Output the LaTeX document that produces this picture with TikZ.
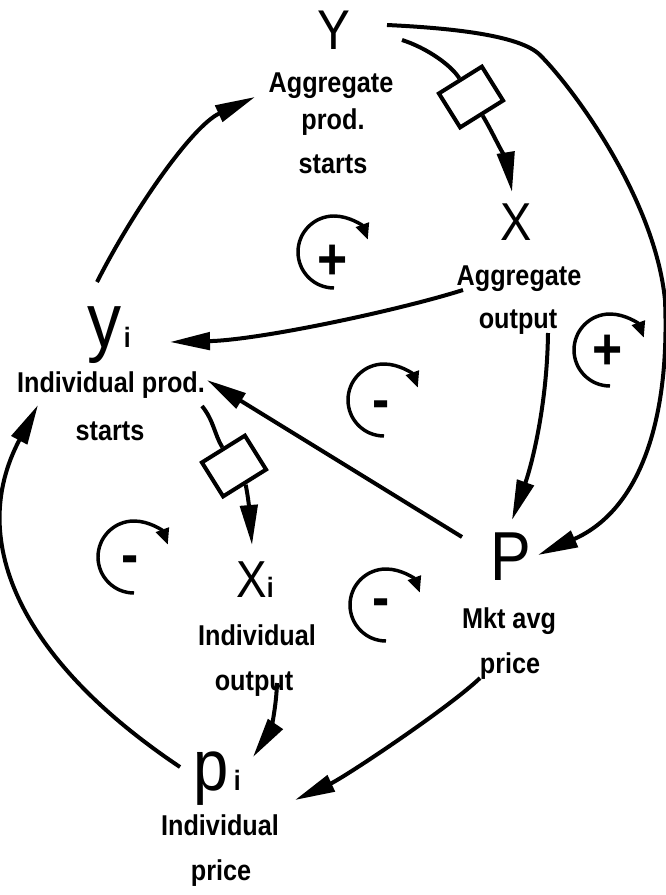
\documentclass[tikz,border=0pt]{standalone}
\usepackage{fontspec}
\setmainfont{Liberation Sans}[FakeStretch=0.88]
\usetikzlibrary{arrows.meta}
\tikzset{
  conn/.style={line width=3pt, -{Triangle[length=30pt,width=13pt]}},
  plainln/.style={line width=3pt},
  boxd/.style={draw, line width=3pt, rotate=32, minimum width=38pt, minimum height=30pt, inner sep=0pt},
  lab/.style={anchor=base, inner sep=0pt, font=\fontsize{21.5}{26}\selectfont\bfseries},
  bigl/.style={anchor=base, inner sep=0pt},
  loopline/.style={line width=2.6pt, -{Triangle[length=12pt,width=10pt]}},
  sign/.style={anchor=base, inner sep=0pt, font=\fontsize{44}{46}\selectfont\bfseries},
  loopsym/.pic={\draw[loopline] (0,36) arc[start angle=90, end angle=340, radius=36];}
}
\newcommand\subi{{\fontsize{21}{22}\selectfont\bfseries i}}
\begin{document}
\begin{tikzpicture}[x={(0.75pt,0pt)}, y={(0pt,-0.75pt)}]
\useasboundingbox (0,0) rectangle (666,895);

% ---- texts ----
\node[bigl, font=\fontsize{42}{44}\selectfont] (Y) at (334,50) {Y};
\node[lab] (Y1) at (331,93) {Aggregate};
\node[lab] (Y2) at (333,130) {prod.};
\node[lab] (Y3) at (333,173) {starts};

\node[bigl, font=\fontsize{40}{42}\selectfont] (X) at (516,240) {X};
\node[lab] (X1) at (519,285) {Aggregate};
\node[lab] (X2) at (518,328) {output};

\node[bigl] (yi) at (109,347) {{\fontsize{58}{60}\selectfont y}\hspace{2pt}\subi};
\node[lab] (yi1) at (111,392) {Individual prod.};
\node[lab] (yi2) at (110,440) {starts};

\node[bigl] (xi) at (255,597) {{\fontsize{39}{40}\selectfont X}\subi};
\node[lab] (xi1) at (257,645) {Individual};
\node[lab] (xi2) at (254,690) {output};

\node[bigl, font=\fontsize{52}{54}\selectfont] (P) at (511,580) {P};
\node[lab] (P1) at (509,628) {Mkt avg};
\node[lab] (P2) at (510,673) {price};

\node[bigl] (pi) at (217,790) {{\fontsize{54}{56}\selectfont p}\hspace{4pt}\subi};
\node[lab] (pi1) at (220,835) {Individual};
\node[lab] (pi2) at (221,880) {price};

% ---- delay boxes ----
\node[boxd] (box1) at (471,97) {};
\node[boxd] (box2) at (234,466) {};

% ---- connector end points ----
\coordinate (cYX) at (402,40);
\coordinate (tX) at (512,192);
\coordinate (cYP) at (387,25);
\coordinate (cS) at (540,55);
\coordinate (cR) at (665,300);
\coordinate (tP1) at (538,555);
\coordinate (cXy) at (463,290);
\coordinate (tyi1) at (170,342);
\coordinate (cXP) at (548,333);
\coordinate (tP2) at (512,520);
\coordinate (cPy) at (462,537);
\coordinate (tyi2) at (207,380);
\coordinate (cyx) at (202,406);
\coordinate (txi) at (252,545);
\coordinate (cxp) at (277,683);
\coordinate (tpi1) at (253,757);
\coordinate (cPp) at (480,678);
\coordinate (tpi2) at (295,800);
\coordinate (cpy) at (180,767);
\coordinate (tyi3) at (38,405);
\coordinate (cyY) at (97,282);
\coordinate (tY) at (255,97);

% ---- connectors ----
\draw[plainln] (cYX) .. controls +(25,8) and +(-8,-13) .. (box1.north);
\draw[conn] (box1.south) .. controls +(12,20) and +(-4,-25) .. (tX);
\draw[conn] (cYP) .. controls (450,28) and (520,35) .. (cS) .. controls (575,90) and (655,200) .. (cR) .. controls (670,420) and (640,510) .. (tP1);
\draw[conn] (cXy) .. controls (400,310) and (260,340) .. (tyi1);
\draw[conn] (cXP) .. controls (547,410) and (530,470) .. (tP2);
\draw[conn] (cPy) -- (tyi2);
\draw[plainln] (cyx) .. controls +(12,15) and +(-8,-13) .. (box2.north);
\draw[conn] (box2.south) .. controls +(4,20) and +(-2,-25) .. (txi);
\draw[conn] (cxp) .. controls (276,715) and (268,735) .. (tpi1);
\draw[conn] (cPp) .. controls (450,707) and (345,777) .. (tpi2);
\draw[conn] (cpy) .. controls (26,664) and (-36,544) .. (tyi3);
\draw[conn] (cyY) .. controls (133,211) and (192,126) .. (tY);

% ---- loop symbols ----
\pic at (334,252) {loopsym};
\pic at (610,350) {loopsym};
\pic at (384,400) {loopsym};
\pic at (134,557) {loopsym};
\pic at (386,605) {loopsym};

\node[sign] (s1) at (333,279) {+};
\node[sign] (s2) at (608,369) {+};
\node[sign] (s3) at (381,419) {-};
\node[sign] (s4) at (130,574) {-};
\node[sign] (s5) at (381,617) {-};
\end{tikzpicture}
\end{document}
